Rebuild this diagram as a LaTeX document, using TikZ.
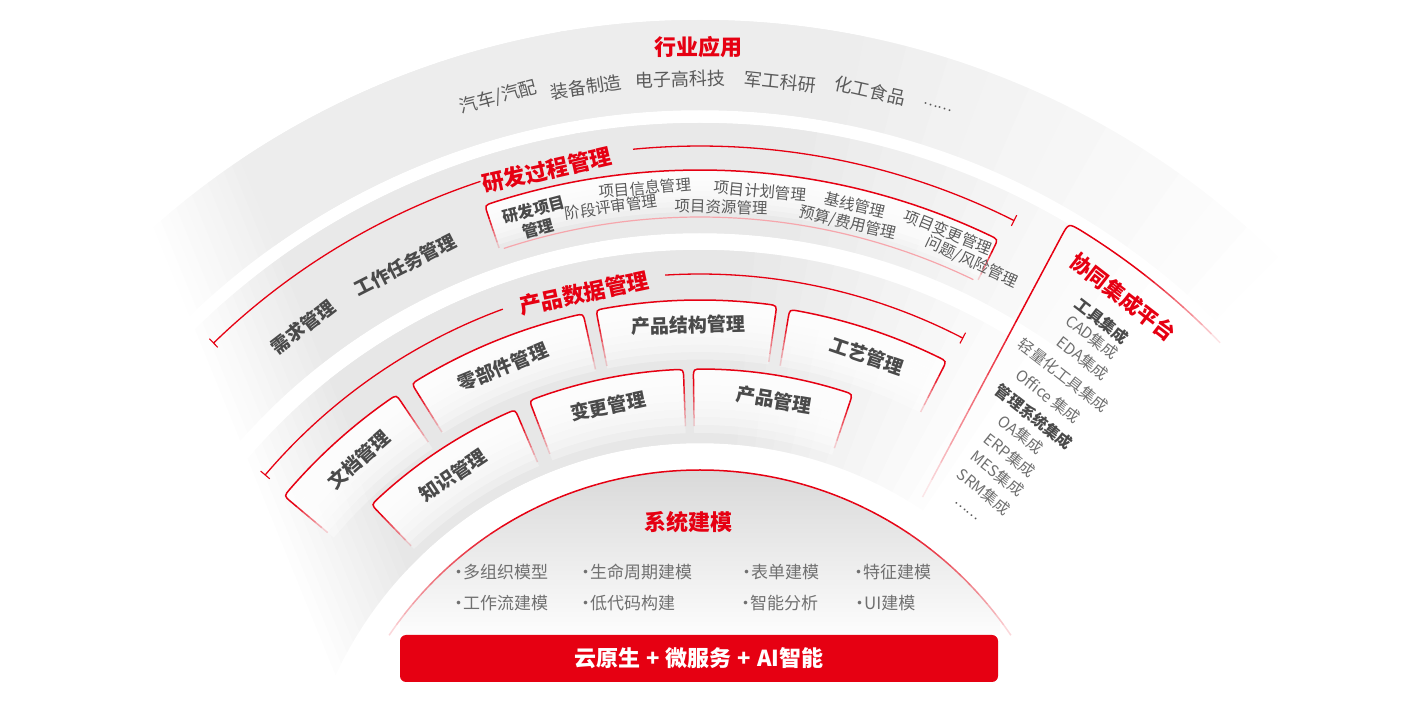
\documentclass[tikz,border=0pt]{standalone}
\usepackage{fontspec}
\setmainfont{Noto Sans CJK SC}
\usetikzlibrary{calc}
\definecolor{hred}{HTML}{E60012}
\definecolor{tdark}{HTML}{4A4A4A}
\definecolor{tmid}{HTML}{5A5A5A}
\definecolor{tlite}{HTML}{707070}
\definecolor{gA}{HTML}{EDEDED}
\definecolor{gB}{HTML}{E9E9E9}
\definecolor{gC}{HTML}{E7E7E7}

\newcommand{\annpath}[4]{($(C)+(#1:#3)$) arc[start angle=#1,end angle=#2,radius=#3] -- ($(C)+(#2:#4)$) arc[start angle=#2,end angle=#1,radius=#4] -- cycle}

% band: #1 left end angle, #2 split angle, #3 right full, #4 right white, #5 rin, #6 rout, #7 colour
\newcommand{\fanband}[7]{%
  \begin{scope}
    \clip \annpath{#1}{#2-0.5}{#5}{#6};
    \foreach \k in {0,...,11}{%
      \pgfmathsetmacro\cc{-25+115*(\k+0.5)/12}%
      \pgfmathsetmacro\op{1/(12-\k)}%
      \fill[#7,fill opacity=\op] ($(O)+(22.13:\cc)+(112.13:1200)$) -- ($(O)+(22.13:\cc)+(-67.87:1200)$)
        -- ($(O)+(22.13:2000)+(-67.87:1200)$) -- ($(O)+(22.13:2000)+(112.13:1200)$) -- cycle;
    }
  \end{scope}
  \foreach \k in {0,...,11}{%
    \pgfmathsetmacro\lb{#4+(#3-#4)*(\k+0.5)/12}%
    \pgfmathsetmacro\op{1/(12-\k)}%
    \fill[#7,fill opacity=\op] \annpath{#2}{\lb}{#5}{#6};
  }}

\newcommand{\pbox}[5]{%
  \pgfmathsetmacro\dA{9/#3*57.29578}%
  \pgfmathsetmacro\aL{#1-\dA}%
  \pgfmathsetmacro\aR{#2+\dA}%
  \pgfmathsetmacro\rc{#3-9}%
  \begin{scope}
    \clip ($(C)+(#1:#4)$) -- ($(C)+(#1:\rc)$) .. controls ($(C)+(#1:#3)$) .. ($(C)+(\aL:#3)$)
      arc[start angle=\aL,end angle=\aR,radius=#3] .. controls ($(C)+(#2:#3)$) .. ($(C)+(#2:\rc)$)
      -- ($(C)+(#2:#4)$) arc[start angle=#2,end angle=#1,radius=#4] -- cycle;
    \foreach \k in {1,...,8}{%
      \pgfmathsetmacro\rr{#3-(#3-#4)*\k/9}%
      \fill[white,fill opacity=0.3] \annpath{#1+2}{#2-2}{\rr}{#3+5};
    }
  \end{scope}
  \draw[hred,line width=1.5pt] ($(C)+(#1:\rc)$) .. controls ($(C)+(#1:#3)$) .. ($(C)+(\aL:#3)$)
      arc[start angle=\aL,end angle=\aR,radius=#3] .. controls ($(C)+(#2:#3)$) .. ($(C)+(#2:\rc)$);
  \foreach \k in {0,...,5}{%
    \pgfmathsetmacro\ra{\rc-#5*\k}%
    \pgfmathsetmacro\rb{\rc-#5*\k-#5}%
    \pgfmathsetmacro\op{1-\k/6}%
    \draw[hred,line width=1.5pt,draw opacity=\op] ($(C)+(#1:\ra)$) -- ($(C)+(#1:\rb)$) ($(C)+(#2:\ra)$) -- ($(C)+(#2:\rb)$);
  }}

\newcommand{\ptext}[5]{\node[#1,rotate=#2-90] (#5) at ($(C)+(#2:#3)$) {#4};}
\newcommand{\bul}{\makebox[9pt][c]{•}}

\tikzset{
  lbl/.style={inner sep=0pt,align=center},
  ttl/.style={lbl,text=hred,font=\bfseries\fontsize{22}{24}\selectfont},
  ttlb/.style={lbl,text=hred,font=\bfseries\fontsize{21}{23}\selectfont},
  ind/.style={lbl,text=tmid,font=\fontsize{18}{20}\selectfont},
  dotsty/.style={lbl,text=tmid,font=\fontsize{14}{16}\selectfont},
  blab/.style={lbl,text=tdark,font=\bfseries\fontsize{19}{21}\selectfont},
  blabs/.style={lbl,text=tdark,font=\bfseries\fontsize{18.5}{20}\selectfont},
  subb/.style={lbl,text=tdark,font=\bfseries\fontsize{16}{19}\selectfont},
  subt/.style={lbl,text=tmid,font=\fontsize{15.5}{18}\selectfont},
  pan/.style={lbl,text=tlite,font=\fontsize{15.5}{18}\selectfont},
  panb/.style={lbl,text=tdark,font=\bfseries\fontsize{15.5}{18}\selectfont},
  dom/.style={inner sep=0pt,anchor=west,text=tlite,font=\fontsize{17}{19}\selectfont},
  redarc/.style={hred,line width=1.3pt},
  tick/.style={hred,line width=1.1pt},
}

\begin{document}
\begin{tikzpicture}[x=1pt,y=1pt]
\useasboundingbox (0,0) rectangle (1408,712);
\coordinate (C) at (700,-133);
\coordinate (O) at (160,522);

% background bands
\fanband{141}{100}{80}{44}{735}{825}{gA}
\fanband{146}{100}{82}{50}{612}{722}{gB}
\fanband{158}{100}{86}{55}{402}{595}{gC}

% R&D project sub-box
\pbox{108.6}{63.8}{675}{628}{6}
\draw[hred!35,line width=1.2pt] ($(C)+(108.2:628)$) arc[start angle=108.2,end angle=64.2,radius=628];

% PDM boxes, outer row
\pbox{140}{124}{543}{470}{8}
\pbox{122}{102.4}{544}{478}{8}
\pbox{101}{81.9}{545}{478}{8}
\pbox{80.5}{63}{543}{478}{8}
% inner row
\pbox{134}{113}{473}{404}{8}
\pbox{111}{92}{476}{404}{8}
\pbox{90.8}{71.3}{476}{404}{8}

% title arcs with end ticks
\draw[redarc] ($(C)+(134.1:699)$) arc[start angle=134.1,end angle=108.3,radius=699];
\draw[redarc] ($(C)+(95.5:699)$) arc[start angle=95.5,end angle=63.3,radius=699];
\draw[tick] ($(C)+(134.1:693)$) -- ($(C)+(134.1:705)$);
\draw[tick] ($(C)+(63.3:693)$) -- ($(C)+(63.3:705)$);
\draw[redarc] ($(C)+(139.6:571)$) arc[start angle=139.6,end angle=110.2,radius=571];
\draw[redarc] ($(C)+(93.5:571)$) arc[start angle=93.5,end angle=62.6,radius=571];
\draw[tick] ($(C)+(139.6:565)$) -- ($(C)+(139.6:577)$);
\draw[tick] ($(C)+(62.6:565)$) -- ($(C)+(62.6:577)$);

% dome
\begin{scope}
  \clip (400,77) rectangle (1000,300);
  \clip (C) circle[radius=375];
  \shade[top color=black!15,bottom color=black!1] (380,77) rectangle (1020,243);
\end{scope}
\foreach \a in {34,36,...,144}{%
  \pgfmathsetmacro\op{min(1,0.12+min(\a+1-34,146-\a-1)/28)}%
  \draw[hred,line width=1.5pt,draw opacity=\op] ($(C)+(\a:375)$) arc[start angle=\a,end angle=\a+2,radius=375];
}

% base bar
\node[fill=hred,rounded corners=6pt,minimum width=598pt,minimum height=47pt,inner sep=0pt,
      text=white,font=\bfseries\fontsize{22}{24}\selectfont] (bar) at (699,53.5)
      {云原生\hspace{6pt}+\hspace{6pt}微服务\hspace{6pt}+\hspace{6pt}AI智能};

% integration panel outline
\coordinate (pT) at ($(C)+(59.3:708)$);
\coordinate (pB) at ($(C)+(57.4:413)$);
\draw[hred,line width=1.5pt] (pT) .. controls ($(C)+(59.35:723)$) .. ($(C)+(58.1:723)$) arc[start angle=58.1,end angle=53,radius=723];
\foreach \a in {53,52,...,45}{%
  \pgfmathsetmacro\op{(\a-44)/9}%
  \draw[hred,line width=1.5pt,draw opacity=\op] ($(C)+(\a:723)$) arc[start angle=\a,end angle=\a-1,radius=723];
}
\foreach \k in {0,...,14}{%
  \pgfmathsetmacro\op{min(1,(15-\k)/11)}%
  \draw[hred,line width=1.5pt,draw opacity=\op] ($(pT)!{\k/15}!(pB)$) -- ($(pT)!{(\k+1)/15}!(pB)$);
}

% industry band texts
\ptext{ttl}{90.14}{798}{行业应用}{t1}
\ptext{ind}{105.08}{774.7}{汽车/汽配}{i1}
\ptext{ind}{98.55}{766.5}{装备制造}{i2}
\ptext{ind}{91.5}{766.3}{电子高科技}{i3}
\ptext{ind}{84.01}{767.2}{军工科研}{i4}
\ptext{ind}{77.29}{772.9}{化工食品}{i5}
\ptext{dotsty}{72.13}{775.4}{……}{i6}

% R&D process band texts
\ptext{ttl}{102.77}{692.1}{研发过程管理}{t2}
\ptext{blabs}{127.47}{652.6}{需求管理}{r1}
\ptext{blabs}{116.96}{650.7}{工作任务管理}{r2}
\ptext{subb}{104.68}{647.1}{研发项目\\管理}{r3}
\ptext{subt}{94.79}{659.3}{项目信息管理}{s1}
\ptext{subt}{97.94}{644.2}{阶段评审管理}{s2}
\ptext{subt}{84.76}{656.7}{项目计划管理}{s3}
\ptext{subt}{88.11}{638.3}{项目资源管理}{s4}
\ptext{subt}{76.39}{658.5}{基线管理}{s5}
\ptext{subt}{76.62}{639.4}{预算/费用管理}{s6}
\ptext{subt}{67.97}{661.3}{项目变更管理}{s7}
\ptext{subt}{64.99}{643.3}{问题/风险管理}{s8}

% PDM band texts
\ptext{ttl}{101.87}{564.1}{产品数据管理}{t3}
\ptext{blab}{131.53}{514.5}{文档管理}{p1}
\ptext{blab}{112.4}{517}{零部件管理}{p2}
\ptext{blab}{91.32}{520.1}{产品结构管理}{p3}
\ptext{blab}{71.14}{516.7}{工艺管理}{p4}
\ptext{blab}{123.72}{444.9}{知识管理}{p5}
\ptext{blab}{101.83}{448.5}{变更管理}{p6}
\ptext{blab}{80.56}{451.1}{产品管理}{p7}

% integration panel texts
\ptext{ttlb}{52.33}{692.3}{协同集成平台}{t4}
\ptext{panb}{52.5}{660.4}{工具集成}{c1}
\ptext{pan}{52.35}{641.6}{CAD集成}{c2}
\ptext{pan}{51.8}{619.3}{EDA集成}{c3}
\ptext{pan}{52.28}{594}{轻量化工具集成}{c4}
\ptext{pan}{52.16}{568}{Office 集成}{c5}
\ptext{panb}{52.03}{543}{管理系统集成}{c6}
\ptext{pan}{51.99}{521}{OA集成}{c7}
\ptext{pan}{51.5}{498}{ERP集成}{c8}
\ptext{pan}{51.3}{476}{MES集成}{c9}
\ptext{pan}{51.18}{453}{SRM集成}{c10}
\ptext{dotsty}{51.4}{427}{……}{c11}

% system modelling dome texts
\node[lbl,text=hred,font=\bfseries\fontsize{22}{24}\selectfont] (t5) at (688,190) {系统建模};
\node[dom] (m1) at (454,140) {\bul 多组织模型};
\node[dom] (m2) at (581,140) {\bul 生命周期建模};
\node[dom] (m3) at (742,140) {\bul 表单建模};
\node[dom] (m4) at (854,140) {\bul 特征建模};
\node[dom] (m5) at (454,109) {\bul 工作流建模};
\node[dom] (m6) at (581,109) {\bul 低代码构建};
\node[dom] (m7) at (741,109) {\bul 智能分析};
\node[dom] (m8) at (855,109) {\bul UI建模};
\end{tikzpicture}
\end{document}
